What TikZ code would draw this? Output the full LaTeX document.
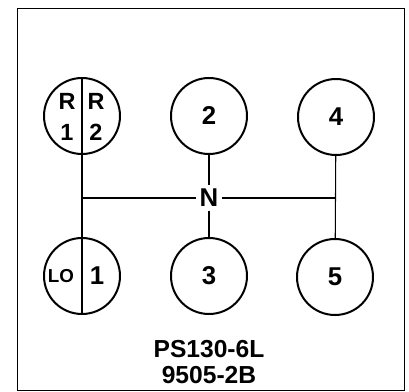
\documentclass[tikz,border=0pt]{standalone}
\usepackage{fontspec}
\setmainfont{Liberation Sans}
\usetikzlibrary{positioning}

\begin{document}
\begin{tikzpicture}[
    x=0.03cm, y=-0.03cm,
    gear/.style={circle, draw, line width=1.7pt, minimum size=2.28cm, inner sep=0pt, font=\fontsize{22}{22}\selectfont\bfseries},
    half/.style={align=center, inner sep=0pt, font=\fontsize{20}{26}\selectfont\bfseries},
    gate/.style={line width=0.9pt},
    code/.style={align=center, font=\fontsize{21}{22}\selectfont\bfseries}
  ]
    \useasboundingbox (0,0) rectangle (409,392);
    \draw[line width=0.8pt] (17,8) rectangle (404,390);

    % --- Gear positions ---
    \node[gear] (r12) at (82,116) {};
    \node[gear] (g2) at (209,116) {2};
    \node[gear] (g4) at (336,117) {4};
    \node[gear] (lo1) at (82,276) {};
    \node[gear] (g3) at (209,276) {3};
    \node[gear] (g5) at (335,277) {5};
    \node[inner sep=3pt, font=\fontsize{22}{22}\selectfont\bfseries] (n) at (209,198) {N};

    % --- Split gear labels ---
    \node[half] (r1) at (67,117) {R\\1};
    \node[half] (r2) at (96,117) {R\\2};
    \node[half, font=\fontsize{16}{16}\selectfont\bfseries] (lo) at (61,276) {LO};
    \node[half, font=\fontsize{22}{22}\selectfont\bfseries] (one) at (97,276) {1};

    % --- Shift gate ---
    \draw[gate] (r12.north) -- (lo1.south);
    \draw[gate] (r12.south |- n) -- (n.west);
    \draw[gate] (n.east) -- (g4.south |- n);
    \draw[gate] (g2) -- (n);
    \draw[gate] (n) -- (g3);
    \draw[gate] (g4) -- (g5);

    % --- Part number ---
    \node[code] (part) at (209,362) {PS130-6L\\9505-2B};
\end{tikzpicture}
\end{document}
